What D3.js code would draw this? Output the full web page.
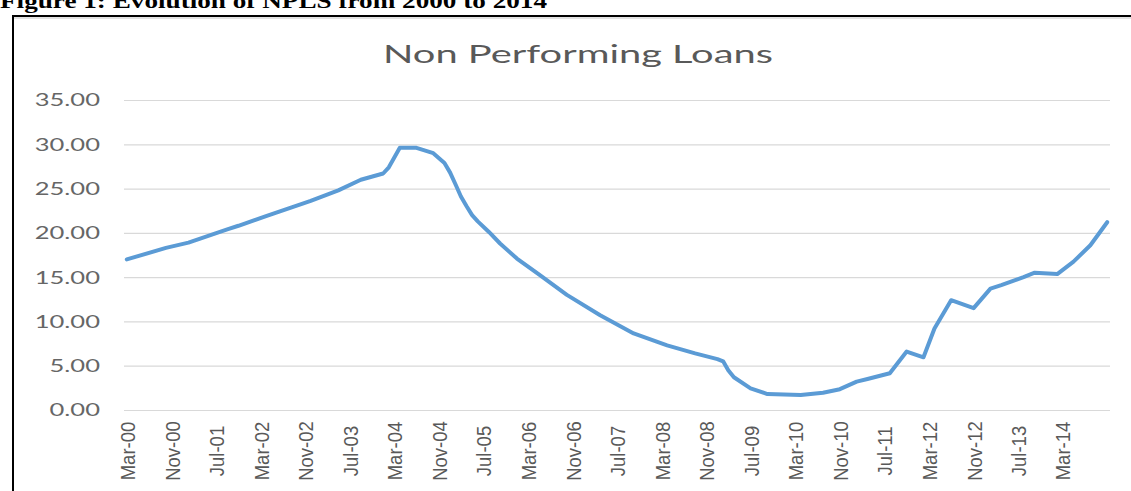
<!DOCTYPE html>
<html>
<head>
<meta charset="utf-8">
<script src="https://cdn.jsdelivr.net/npm/d3@7"></script>
<style>
  html, body { margin: 0; padding: 0; background: #fff; }
  svg { display: block; }
</style>
</head>
<body>
<svg id="chart" width="1131" height="491"></svg>
<script>
const caption = "Figure 1: Evolution of NPLS from 2000 to 2014";
const chartTitle = "Non Performing Loans";
const yTickValues = [0, 5, 10, 15, 20, 25, 30, 35];
const xTickLabels = ["Mar-00","Nov-00","Jul-01","Mar-02","Nov-02","Jul-03","Mar-04","Nov-04",
  "Jul-05","Mar-06","Nov-06","Jul-07","Mar-08","Nov-08","Jul-09","Mar-10","Nov-10","Jul-11",
  "Mar-12","Nov-12","Jul-13","Mar-14"];
const months = ["2000-03","2000-10","2001-02","2001-09","2001-11","2002-04","2002-12","2003-05",
  "2003-09","2004-01","2004-02","2004-04","2004-07","2004-10","2004-12","2005-01","2005-02",
  "2005-03","2005-04","2005-05","2005-06","2005-08","2005-10","2006-01","2006-05","2006-10",
  "2007-04","2007-10","2008-04","2008-09","2009-01","2009-02","2009-03","2009-04","2009-07",
  "2009-10","2010-04","2010-08","2010-11","2011-02","2011-04","2011-08","2011-11","2012-02",
  "2012-04","2012-07","2012-11","2013-02","2013-04","2013-08","2013-10","2014-02","2014-05",
  "2014-08","2014-11"];
const npl = [17.0,18.3,18.9,20.4,20.8,21.9,23.6,24.8,
  26.0,26.7,27.4,29.6,29.6,29.0,27.9,26.8,25.4,
  24.1,23.0,22.0,21.3,20.1,18.8,17.1,15.3,13.0,
  10.7,8.65,7.3,6.4,5.75,5.5,4.5,3.7,2.45,
  1.8,1.7,1.95,2.35,3.2,3.5,4.15,6.6,5.95,
  9.2,12.4,11.5,13.7,14.1,15.0,15.5,15.35,16.75,
  18.6,21.2];

const svg = d3.select("#chart");
const parseM = d3.timeParse("%Y-%m");
const parseL = d3.timeParse("%b-%y");
const data = months.map((m, i) => ({ date: parseM(m), value: npl[i] }));

const plotLeft = 124, plotRight = 1110, plotTop = 100, plotBottom = 410;

const x = d3.scaleTime()
  .domain([parseM("2000-03"), parseM("2014-11")])
  .range([126.8, 1107.2]);
const y = d3.scaleLinear().domain([0, 35]).range([plotBottom, plotTop]);

// Caption (partially cropped at top, as in the reference)
svg.append("text")
  .attr("x", 0).attr("y", 8)
  .attr("font-family", "Liberation Serif, Times New Roman, serif")
  .attr("font-weight", "bold")
  .attr("font-size", 22)
  .attr("textLength", 547)
  .attr("lengthAdjust", "spacingAndGlyphs")
  .attr("fill", "#000")
  .text(caption);

// Frame
svg.append("line").attr("x1", 12).attr("x2", 1131).attr("y1", 16).attr("y2", 16)
  .attr("stroke", "#000").attr("stroke-width", 2);
svg.append("line").attr("x1", 14).attr("x2", 1131).attr("y1", 18).attr("y2", 18)
  .attr("stroke", "#d9d9d9").attr("stroke-width", 1.5);
svg.append("line").attr("x1", 13).attr("x2", 13).attr("y1", 15).attr("y2", 491)
  .attr("stroke", "#000").attr("stroke-width", 2);

// Chart title
svg.append("text")
  .attr("x", 578).attr("y", 63)
  .attr("text-anchor", "middle")
  .attr("font-family", "Lato, Open Sans, sans-serif")
  .attr("font-size", 25)
  .attr("textLength", 390)
  .attr("lengthAdjust", "spacingAndGlyphs")
  .attr("fill", "#595959")
  .text(chartTitle);

// Gridlines
const yAxis = d3.axisLeft(y).tickValues(yTickValues).tickSize(-(plotRight - plotLeft)).tickFormat("");
const gGrid = svg.append("g").attr("transform", `translate(${plotLeft},0)`).call(yAxis);
gGrid.select(".domain").remove();
gGrid.selectAll(".tick line").attr("stroke", "#d9d9d9").attr("stroke-width", 1.2);

// Y labels
svg.append("g").selectAll("g.ylab")
  .data(yTickValues)
  .join("g")
  .attr("transform", d => `translate(100,${y(d)}) scale(1.42,1)`)
  .append("text")
  .attr("text-anchor", "end")
  .attr("dy", "0.36em")
  .attr("font-family", "Lato, Open Sans, sans-serif")
  .attr("font-size", 18)
  .attr("fill", "#666666")
  .text(d => d3.format(".2f")(d));

// X labels
const xAxis = d3.axisBottom(x).tickValues(xTickLabels.map(parseL)).tickSize(0).tickFormat("");
const gx = svg.append("g").attr("transform", `translate(0,${plotBottom})`).call(xAxis);
gx.select(".domain").remove();
svg.append("g").selectAll("text")
  .data(xTickLabels)
  .join("text")
  .attr("transform", d => `translate(${x(parseL(d)) + 1},451) rotate(-90) scale(1,1.1)`)
  .attr("text-anchor", "middle")
  .attr("dy", "0.35em")
  .attr("font-family", "Liberation Sans Narrow, Liberation Sans, Arial, sans-serif")
  .attr("font-size", 18.5)
  .attr("fill", "#595959")
  .text(d => d);

// Line
const line = d3.line().x(d => x(d.date)).y(d => y(d.value));
svg.append("path")
  .datum(data)
  .attr("d", line)
  .attr("fill", "none")
  .attr("stroke", "#5b9bd5")
  .attr("stroke-width", 4)
  .attr("stroke-linejoin", "round")
  .attr("stroke-linecap", "round");
</script>
</body>
</html>
